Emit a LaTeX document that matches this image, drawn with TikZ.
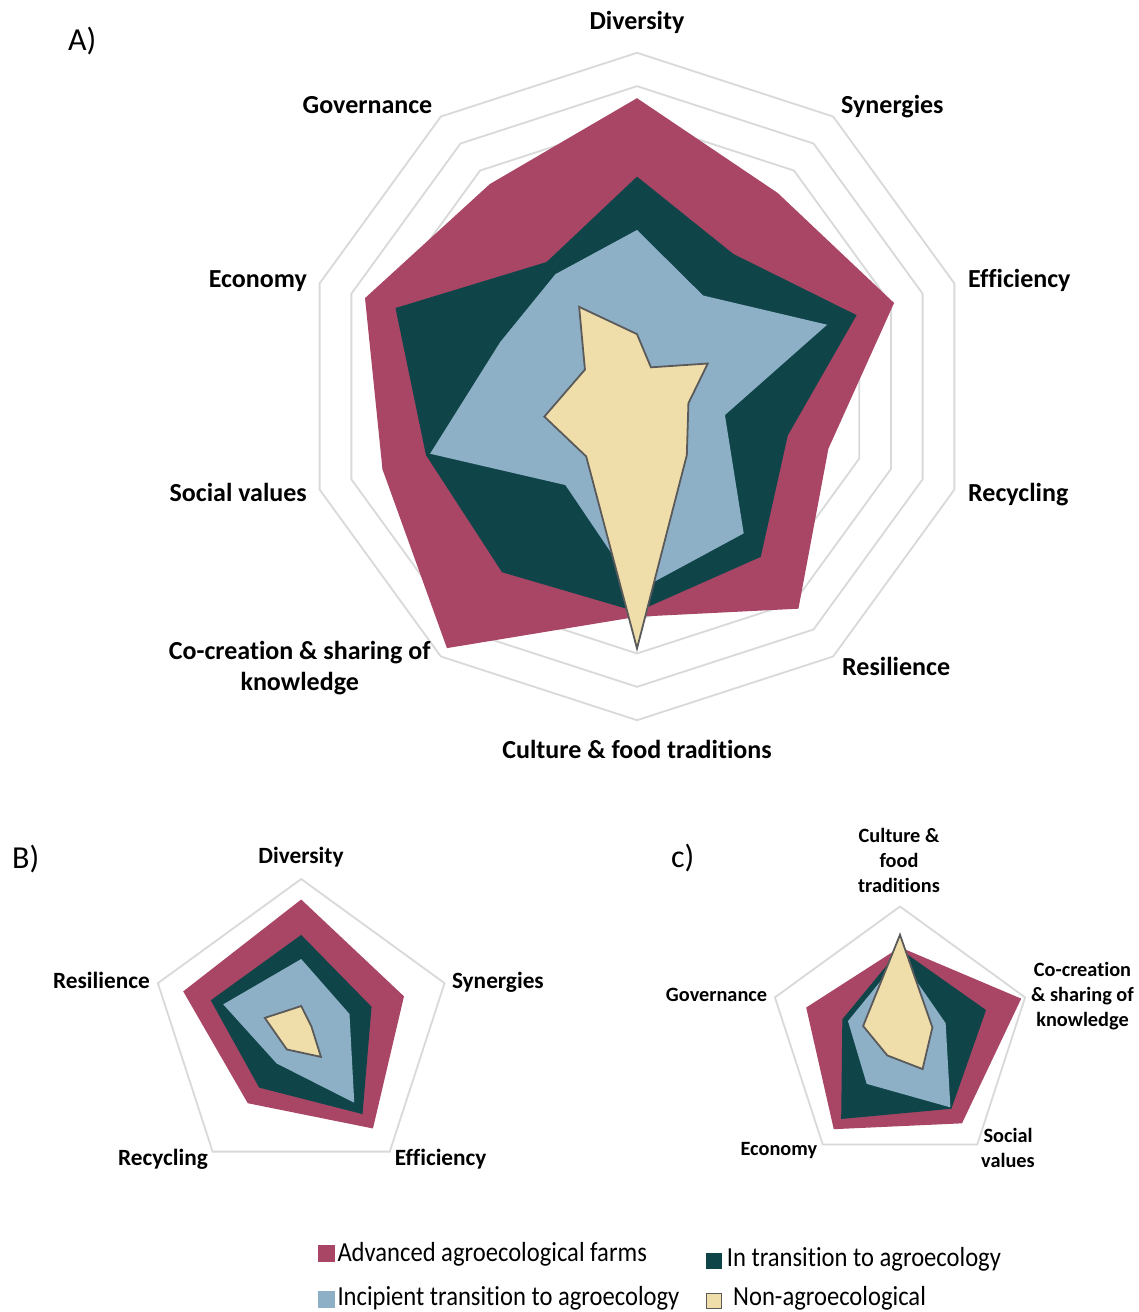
\documentclass[tikz,border=0pt]{standalone}
\usepackage{fontspec}
\usepackage{graphicx}
\setmainfont{Carlito}[Ligatures={NoCommon}]
\definecolor{adv}{HTML}{A94565}
\definecolor{trans}{HTML}{0F4549}
\definecolor{incip}{HTML}{8EB0C7}
\definecolor{nonag}{HTML}{F0DEAA}
\definecolor{outl}{HTML}{5A5A5A}
\definecolor{gridgray}{HTML}{D9D9D9}
% radar points: #1 prefix, #2 cx, #3 cy, #4 unit, #5 angle step, #6 values
\newcommand\radarpts[6]{\foreach \v [count=\i] in {#6}{\coordinate (#1\i) at ({#2+#4*\v*sin(#5*(\i-1))},{#3-#4*\v*cos(#5*(\i-1))});}}
% radar polygon: #1 style, #2 prefix, #3 number of vertices
\newcommand\radarpoly[3]{\path[#1] (#21) \foreach \i in {2,...,#3}{ -- (#2\i)} -- cycle;}
\begin{document}
\begin{tikzpicture}[x=1pt,y=-1pt,
  gridline/.style={draw=gridgray, line width=1.8pt, line join=miter},
  advfill/.style={fill=adv},
  transfill/.style={fill=trans},
  incipfill/.style={fill=incip},
  nonagfill/.style={fill=nonag, draw=outl, line width=1.8pt, line join=miter},
  lblA/.style={font=\fontsize{26}{30.7}\selectfont\bfseries, inner sep=0pt},
  lblB/.style={font=\fontsize{23.3}{28}\selectfont\bfseries, inner sep=0pt},
  lblC/.style={font=\fontsize{20.3}{25}\selectfont\bfseries, inner sep=0pt, align=center},
  panel/.style={font=\fontsize{32}{36}\selectfont, inner sep=0pt, anchor=base west},
  legtext/.style={font=\fontsize{24.6}{29}\selectfont, inner sep=0pt, anchor=base west},
  legsq/.style={minimum size=16.5pt, inner sep=0pt, outer sep=0pt},
]
\useasboundingbox[fill=white] (0,0) rectangle (1139,1312);

% ---------------- Panel A ----------------
\foreach \k in {1,...,10}{
  \draw[gridline] (637,{386.5-33.37*\k}) \foreach \j in {1,...,9}{ -- ({637+33.37*\k*sin(36*\j)},{386.5-33.37*\k*cos(36*\j)})} -- cycle;
}
\radarpts{Aadv}{637}{386.5}{33.37}{36}{8.64,7.17,8.10,6.03,8.23,6.90,9.69,8.02,8.57,7.50}
\radarpts{Atra}{637}{386.5}{33.37}{36}{6.29,4.91,6.92,4.75,6.31,6.75,6.88,6.65,7.61,4.61}
\radarpts{Ainc}{637}{386.5}{33.37}{36}{4.69,3.37,5.99,2.77,5.44,6.13,3.65,6.52,4.31,4.16}
\radarpts{Anon}{637}{386.5}{33.37}{36}{1.57,0.71,2.23,1.62,2.54,7.85,2.59,2.92,1.64,2.95}
\radarpoly{advfill}{Aadv}{10}
\radarpoly{transfill}{Atra}{10}
\radarpoly{incipfill}{Ainc}{10}
\radarpoly{nonagfill}{Anon}{10}

\node[panel] (pA) at (68,50) {A)};
\node[lblA, anchor=base] (lDiv) at (637,29.5) {Diversity};
\node[lblA, anchor=base west] (lSyn) at (841,113.5) {Synergies};
\node[lblA, anchor=base west] (lEff) at (968,287) {Efficiency};
\node[lblA, anchor=base west] (lRec) at (968,501.5) {Recycling};
\node[lblA, anchor=base west] (lRes) at (842,675) {Resilience};
\node[lblA, anchor=base] (lCul) at (637,758.5) {Culture \& food traditions};
\node[lblA, anchor=base, align=center] (lCoc) at (299.7,690) {Co-creation \& sharing of\\knowledge};
\node[lblA, anchor=base east] (lSoc) at (307,501.5) {Social values};
\node[lblA, anchor=base east] (lEco) at (307,287) {Economy};
\node[lblA, anchor=base east] (lGov) at (432.5,113.5) {Governance};

% ---------------- Panel B ----------------
\draw[gridline] (301.2,{1029.7-150.7}) \foreach \j in {1,...,4}{ -- ({301.2+150.7*sin(72*\j)},{1029.7-150.7*cos(72*\j)})} -- cycle;
\radarpts{Badv}{301.2}{1029.7}{15.07}{72}{8.64,7.17,8.10,6.03,8.23}
\radarpts{Btra}{301.2}{1029.7}{15.07}{72}{6.29,4.91,6.92,4.75,6.31}
\radarpts{Binc}{301.2}{1029.7}{15.07}{72}{4.69,3.37,5.99,2.77,5.44}
\radarpts{Bnon}{301.2}{1029.7}{15.07}{72}{1.57,0.71,2.23,1.62,2.54}
\radarpoly{advfill}{Badv}{5}
\radarpoly{transfill}{Btra}{5}
\radarpoly{incipfill}{Binc}{5}
\radarpoly{nonagfill}{Bnon}{5}

\node[panel] (pB) at (12,868.5) {B)};
\node[lblB, anchor=base] (bDiv) at (301,863.5) {Diversity};
\node[lblB, anchor=base west] (bSyn) at (451.8,988.5) {Synergies};
\node[lblB, anchor=base east] (bRes) at (150,988.5) {Resilience};
\node[lblB, anchor=base east] (bRec) at (208,1165) {Recycling};
\node[lblB, anchor=base west] (bEff) at (394.6,1165) {Efficiency};

% ---------------- Panel C ----------------
\draw[gridline] (900,{1038-131.5}) \foreach \j in {1,...,4}{ -- ({900+131.5*sin(72*\j)},{1038-131.5*cos(72*\j)})} -- cycle;
\radarpts{Cadv}{900}{1038}{13.15}{72}{6.90,9.69,8.02,8.57,7.50}
\radarpts{Ctra}{900}{1038}{13.15}{72}{6.75,6.88,6.65,7.61,4.61}
\radarpts{Cinc}{900}{1038}{13.15}{72}{6.13,3.65,6.52,4.31,4.16}
\radarpts{Cnon}{900}{1038}{13.15}{72}{7.85,2.59,2.92,1.64,2.95}
\radarpoly{advfill}{Cadv}{5}
\radarpoly{transfill}{Ctra}{5}
\radarpoly{incipfill}{Cinc}{5}
\radarpoly{nonagfill}{Cnon}{5}

\node[panel] (pC) at (671,867) {c)};
\node[lblC, anchor=base] (cCul) at (899,892.7) {Culture \&\\food\\traditions};
\node[lblC, anchor=base] (cCoc) at (1082.5,1026.7) {Co-creation\\\& sharing of\\knowledge};
\node[lblC, anchor=base east] (cGov) at (767.3,1001.7) {Governance};
\node[lblC, anchor=base east] (cEco) at (817.3,1155) {Economy};
\node[lblC, anchor=base] (cSoc) at (1008,1167.7) {Social\\values};

% ---------------- Legend ----------------
\node[legsq, fill=adv] (sqAdv) at (326.7,1253.3) {};
\node[legtext] (tAdv) at (337.3,1261) {\scalebox{1}[1.12]{Advanced agroecological farms}};
\node[legsq, fill=trans] (sqTra) at (714,1261) {};
\node[legtext] (tTra) at (726.7,1266) {\scalebox{1}[1.12]{In transition to agroecology}};
\node[legsq, fill=incip] (sqInc) at (326.7,1299.5) {};
\node[legtext] (tInc) at (337.3,1305) {\scalebox{1}[1.12]{Incipient transition to agroecology}};
\node[legsq, fill=nonag, draw=outl, line width=1pt, minimum size=15pt] (sqNon) at (713.5,1300.5) {};
\node[legtext] (tNon) at (733,1305) {\scalebox{1}[1.12]{Non-agroecological}};
\end{tikzpicture}
\end{document}
